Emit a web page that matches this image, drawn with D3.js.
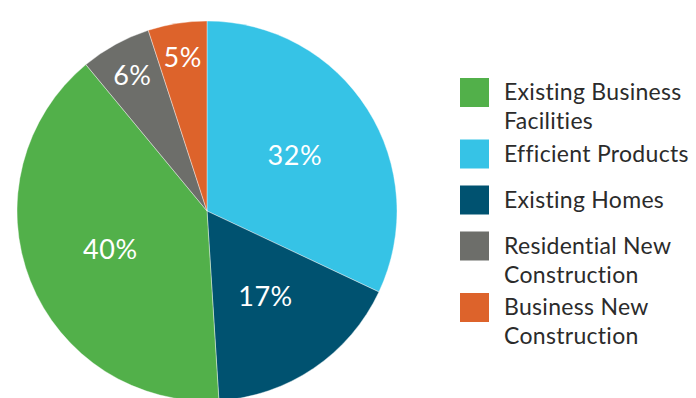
<!DOCTYPE html>
<html>
<head>
<meta charset="utf-8">
<script src="https://cdn.jsdelivr.net/npm/d3@7"></script>
<style>
  body { margin: 0; background: #fff; }
  svg { display: block; font-family: Lato, "Open Sans", sans-serif; }
</style>
</head>
<body>
<div id="chart"></div>
<script>
// slices in drawing order, clockwise from 12 o'clock
var categories = ['Efficient Products', 'Existing Homes', 'Existing Business Facilities', 'Residential New Construction', 'Business New Construction'];
var values = [32, 17, 40, 6, 5];
var colors = ['#36c3e6', '#005270', '#52b04a', '#6d6e6a', '#dd632b'];

// legend order and line breaks
var legendOrder = [2, 0, 1, 3, 4];
var legendLines = [['Existing Business', 'Facilities'], ['Efficient Products'], ['Existing Homes'], ['Residential New', 'Construction'], ['Business New', 'Construction']];

var width = 696, height = 398;
var cx = 207, cy = 211, radius = 190;

var svg = d3.select('#chart').append('svg')
    .attr('width', width)
    .attr('height', height);

var pie = d3.pie().sort(null).value(function(d) { return d; });
var arc = d3.arc().innerRadius(0).outerRadius(radius);

var g = svg.append('g').attr('transform', 'translate(' + cx + ',' + cy + ')');
var arcs = pie(values);

g.selectAll('path')
    .data(arcs)
    .enter().append('path')
    .attr('d', arc)
    .attr('fill', function(d, i) { return colors[i]; })
    .attr('stroke', '#fff')
    .attr('stroke-width', 0.4);

// small slices get their label further out
g.selectAll('text')
    .data(arcs)
    .enter().append('text')
    .attr('transform', function(d) {
        var r = d.value < 10 ? 155 : 104;
        var a = (d.startAngle + d.endAngle) / 2;
        return 'translate(' + (Math.sin(a) * r) + ',' + (-Math.cos(a) * r) + ')';
    })
    .attr('text-anchor', 'middle')
    .attr('dy', '0.35em')
    .attr('fill', '#fff')
    .style('font-size', '27px')
    .style('letter-spacing', '0.5px')
    .text(function(d) { return d.value + '%'; });

// legend
var legend = svg.append('g');
var y = 78;
legendOrder.forEach(function(idx, k) {
    var item = legend.append('g').attr('transform', 'translate(460,' + y + ')');
    item.append('rect')
        .attr('width', 29).attr('height', 29)
        .attr('fill', colors[idx]);
    var t = item.append('text')
        .attr('x', 44)
        .attr('y', 22)
        .attr('fill', '#2b2b2b')
        .style('font-size', '23px')
        .style('letter-spacing', '0.3px');
    legendLines[k].forEach(function(line, j) {
        t.append('tspan').attr('x', 44).attr('dy', j ? 29 : 0).text(line);
    });
    y += 46 + (legendLines[k].length - 1) * 15.5;
});
</script>
</body>
</html>
